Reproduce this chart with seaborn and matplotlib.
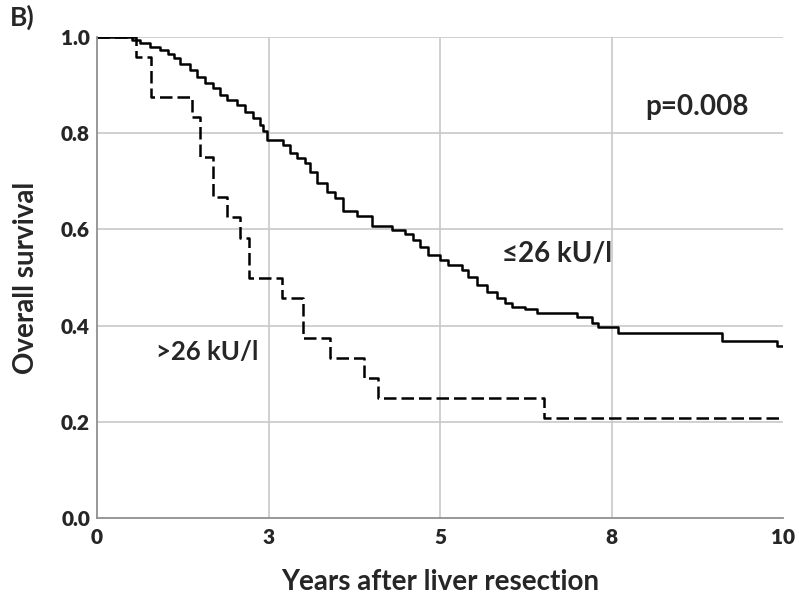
import numpy as np
import pandas as pd
import matplotlib
matplotlib.use("Agg")
import matplotlib.pyplot as plt
import seaborn as sns

# Kaplan-Meier steps: time of each drop (years) and survival after it
low_times = [0.0, 0.51, 0.63, 0.77, 0.92, 1.04, 1.12, 1.21, 1.36, 1.46, 1.57, 1.69, 1.79,
             1.90, 2.04, 2.16, 2.27, 2.38, 2.42, 2.48, 2.71, 2.81, 2.92, 3.03, 3.11, 3.21,
             3.35, 3.47, 3.59, 3.79, 4.01, 4.30, 4.49, 4.61, 4.71, 4.83, 5.00, 5.12, 5.32,
             5.41, 5.54, 5.69, 5.83, 5.95, 6.05, 6.24, 6.41, 7.00, 7.22, 7.30, 7.60, 9.11,
             9.91, 10.0]
low_surv = [1.0, 0.994, 0.988, 0.979, 0.973, 0.965, 0.956, 0.944, 0.931, 0.917, 0.904, 0.894,
            0.879, 0.869, 0.859, 0.844, 0.832, 0.818, 0.805, 0.786, 0.775, 0.759, 0.748, 0.738,
            0.719, 0.696, 0.678, 0.665, 0.638, 0.627, 0.607, 0.599, 0.590, 0.578, 0.563, 0.547,
            0.536, 0.526, 0.516, 0.501, 0.484, 0.470, 0.457, 0.447, 0.439, 0.435, 0.426, 0.418,
            0.405, 0.397, 0.385, 0.368, 0.358, 0.358]

high_times = [0.0, 0.57, 0.78, 1.38, 1.50, 1.69, 1.89, 2.09, 2.21, 2.69, 3.00, 3.40, 3.89,
              4.09, 6.51, 10.0]
high_surv = [1.0, 0.958, 0.875, 0.833, 0.750, 0.667, 0.625, 0.583, 0.500, 0.458, 0.375,
             0.333, 0.292, 0.250, 0.208, 0.208]

x_ticks = [0, 2.5, 5, 7.5, 10]
x_tick_labels = ["0", "3", "5", "8", "10"]
y_ticks = [0.0, 0.2, 0.4, 0.6, 0.8, 1.0]

df = pd.concat([
    pd.DataFrame({"years": low_times, "survival": low_surv, "group": "low"}),
    pd.DataFrame({"years": high_times, "survival": high_surv, "group": "high"}),
])

sns.set_theme(style="white")
plt.rcParams["font.family"] = ["Lato", "DejaVu Sans"]

fig = plt.figure(figsize=(7.99, 6.02), dpi=100)
ax = fig.add_axes([0.1214, 0.1395, 0.8586, 0.799])

sns.lineplot(data=df[df["group"] == "low"], x="years", y="survival", drawstyle="steps-post",
             color="black", linewidth=1.8, ax=ax, estimator=None)
sns.lineplot(data=df[df["group"] == "high"], x="years", y="survival", drawstyle="steps-post",
             color="black", linewidth=1.8, ax=ax, estimator=None)
ax.lines[1].set_dashes([5, 2])

ax.set_xlim(0, 10)
ax.set_ylim(0, 1.0)
ax.set_xticks(x_ticks)
ax.set_xticklabels(x_tick_labels)
ax.set_yticks(y_ticks)
ax.set_yticklabels([f"{v:.1f}" for v in y_ticks])
for lbl in ax.get_xticklabels() + ax.get_yticklabels():
    lbl.set_fontweight("heavy")
    lbl.set_fontsize(15)
ax.tick_params(length=0, pad=5)
ax.tick_params(axis="x", pad=7)

for xv in x_ticks[1:-1]:
    ax.axvline(xv, color="#c8c8c8", linewidth=1.2, zorder=0)
for yv in y_ticks[1:]:
    ax.axhline(yv, color="#c8c8c8", linewidth=1.2, zorder=0)

ax.spines[["top", "right"]].set_visible(False)
ax.spines["left"].set_color("#909090")
ax.spines["bottom"].set_color("#909090")
ax.spines["left"].set_linewidth(1.3)
ax.spines["bottom"].set_linewidth(1.3)

ax.set_xlabel("Years after liver resection", fontsize=20, fontweight="bold", labelpad=16)
ax.set_ylabel("Overall survival", fontsize=20, fontweight="bold", labelpad=16)

ax.text(8.75, 0.855, "p=0.008", fontsize=20, fontweight="bold", ha="center", va="center")
ax.text(6.7, 0.55, "\u226426 kU/l", fontsize=20, fontweight="bold", ha="center", va="center")
ax.text(1.6, 0.345, ">26 kU/l", fontsize=18.5, fontweight="bold", ha="center", va="center")

fig.text(0.012, 0.972, "B)", fontsize=19, fontweight="bold", ha="left", va="center")

fig.savefig("out.png", dpi=100)
